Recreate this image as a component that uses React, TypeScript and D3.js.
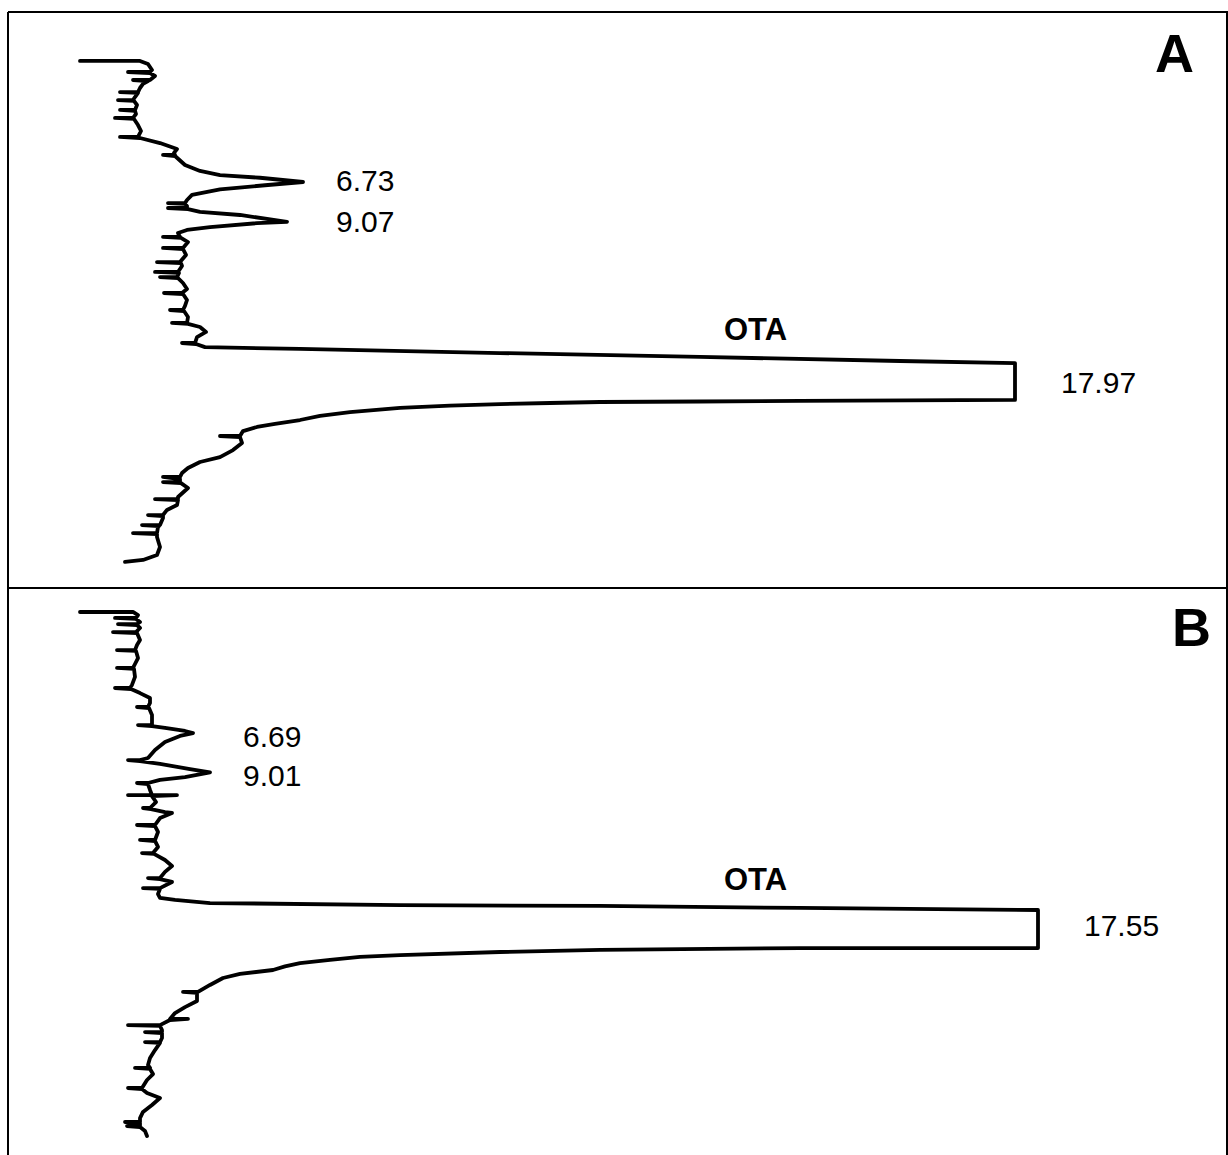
import React from "react";
import * as d3 from "d3";

// [retention time (min), detector signal (relative units)]
type Pt = [number, number];

// Chromatogram, sample A
const traceA: Pt[] = [
  [-0.39, -2.0], [-0.39, 4.0], [-0.21, 4.8], [0.14, 5.2],
  [0.26, 5.0], [0.26, 2.8], [0.32, 5.0], [0.49, 5.5],
  [0.73, 5.0], [0.73, 3.3], [0.79, 4.8], [0.96, 4.3], [1.2, 4.0],
  [1.44, 3.8], [1.44, 2.0], [1.49, 3.8], [1.73, 3.5],
  [1.91, 3.3], [1.91, 1.8], [1.96, 3.4], [2.2, 3.7],
  [2.49, 3.5], [2.49, 2.0], [2.55, 3.5], [2.73, 3.6],
  [2.96, 3.3], [2.96, 1.5], [3.02, 3.4], [3.38, 3.8], [3.73, 4.1],
  [4.08, 3.8], [4.08, 2.0], [4.14, 4.0], [4.44, 6.0], [4.79, 7.7],
  [5.02, 7.4], [5.14, 7.5], [5.14, 6.3], [5.2, 7.5], [5.73, 8.5],
  [6.08, 10.0], [6.32, 12.0], [6.48, 16.0], [6.73, 20.3],
  [6.92, 16.5], [7.16, 12.0], [7.49, 9.2], [7.79, 8.7],
  [7.97, 8.5], [7.97, 6.8], [8.02, 8.5], [8.14, 8.7],
  [8.26, 8.7], [8.26, 6.8], [8.32, 8.8], [8.49, 10.0], [8.67, 14.0],
  [9.07, 18.7], [9.15, 15.7], [9.38, 11.0], [9.55, 8.7], [9.73, 7.8],
  [9.96, 8.0], [9.96, 6.3], [10.02, 8.1], [10.26, 8.8],
  [10.61, 8.3], [10.61, 6.3], [10.67, 8.3], [11.02, 8.6],
  [11.44, 8.0], [11.44, 5.7], [11.5, 8.1], [11.67, 8.2],
  [12.02, 7.8], [12.02, 5.5], [12.08, 7.9],
  [12.32, 7.7], [12.32, 6.0], [12.38, 7.8], [12.67, 8.3], [13.02, 8.7],
  [13.26, 8.2], [13.26, 6.4], [13.32, 8.3], [13.67, 8.7], [14.02, 8.5],
  [14.26, 8.3], [14.26, 7.0], [14.32, 8.4], [14.67, 8.8],
  [15.02, 8.7], [15.02, 7.2], [15.08, 8.8], [15.26, 10.0], [15.55, 10.6],
  [15.85, 9.7], [16.2, 9.5], [16.2, 8.2], [16.26, 9.6], [16.44, 10.5],
  [16.55, 20.0], [16.79, 40.0], [17.02, 60.0], [17.26, 80.0], [17.38, 91.5],
  [19.55, 91.5], [19.61, 70.0], [19.64, 60.0], [19.67, 50.0], [19.73, 45.0],
  [19.79, 40.0], [19.88, 35.0], [20.02, 30.0], [20.26, 25.0], [20.49, 22.0],
  [20.73, 20.0], [20.96, 17.5], [21.14, 15.7], [21.38, 14.3],
  [21.67, 14.0], [21.67, 12.0], [21.73, 14.0], [22.08, 14.2],
  [22.5, 13.3], [22.91, 12.0], [23.2, 10.0], [23.55, 8.8], [23.85, 8.2],
  [24.08, 8.0], [24.08, 6.3], [24.2, 8.0],
  [24.38, 8.0], [24.38, 6.3], [24.44, 8.1], [24.73, 8.8],
  [25.26, 7.8], [25.38, 7.8], [25.38, 5.5], [25.44, 7.8], [25.73, 7.7],
  [26.02, 6.7], [26.32, 6.3], [26.32, 4.8], [26.38, 6.3], [26.49, 6.3],
  [26.91, 6.0], [26.91, 4.2], [26.97, 5.9], [27.02, 5.8],
  [27.38, 5.7], [27.38, 3.3], [27.44, 5.7], [27.61, 5.7],
  [28.2, 6.0], [28.67, 5.7], [28.96, 4.3], [29.08, 2.5],
];

// Chromatogram, sample B
const traceB: Pt[] = [
  [-0.43, -2.0], [-0.43, 3.3], [-0.25, 3.8],
  [-0.08, 3.6], [-0.08, 1.5], [-0.02, 3.6], [0.16, 4.0],
  [0.28, 3.7], [0.28, 1.8], [0.34, 3.7], [0.51, 4.0],
  [0.75, 3.6], [0.75, 1.3], [0.81, 3.7], [1.22, 4.0], [1.51, 3.7],
  [1.81, 3.5], [1.81, 1.7], [1.86, 3.6], [2.28, 3.8], [2.63, 3.5],
  [2.86, 3.3], [2.86, 1.7], [2.92, 3.4], [3.39, 3.5], [3.86, 3.2],
  [4.04, 3.0], [4.04, 1.5], [4.1, 3.1], [4.34, 4.0], [4.63, 5.0], [4.92, 5.0],
  [5.16, 4.8], [5.16, 3.7], [5.22, 4.9], [5.63, 5.2], [6.16, 5.2],
  [6.22, 5.2], [6.22, 3.8], [6.28, 5.2], [6.39, 6.5], [6.57, 8.5],
  [6.69, 9.3], [6.86, 8.0], [7.22, 6.5], [7.69, 5.5], [8.16, 4.8],
  [8.28, 4.0], [8.28, 2.8], [8.34, 4.0], [8.51, 6.0], [8.81, 9.0],
  [9.01, 11.0], [9.28, 8.5], [9.45, 6.0],
  [9.63, 4.8], [9.63, 3.7], [9.69, 4.8], [10.04, 5.0],
  [10.34, 5.2], [10.34, 2.8], [10.34, 7.7], [10.4, 5.2], [10.75, 5.6],
  [11.1, 5.0], [11.1, 4.3], [11.16, 5.1], [11.34, 6.5], [11.39, 7.2], [11.69, 6.0],
  [12.1, 5.5], [12.1, 3.7], [12.16, 5.5], [12.51, 5.8],
  [12.98, 5.5], [12.98, 4.0], [13.04, 5.5], [13.39, 5.8],
  [13.75, 5.3], [13.75, 4.2], [13.8, 5.4], [14.16, 6.5], [14.51, 7.2], [14.86, 6.5],
  [15.22, 6.0], [15.22, 4.8], [15.28, 6.0], [15.45, 7.2],
  [15.81, 6.0], [15.81, 4.3], [15.86, 6.0], [16.16, 5.8], [16.39, 6.0],
  [16.51, 7.5], [16.69, 11.0], [16.81, 30.0], [16.86, 50.0], [16.98, 70.0], [17.1, 93.8],
  [19.34, 93.8], [19.34, 70.0], [19.45, 50.0], [19.57, 40.0], [19.75, 30.0],
  [19.86, 26.0], [20.04, 23.0], [20.22, 20.0], [20.42, 18.5], [20.63, 17.3],
  [20.86, 14.0], [21.1, 12.3], [21.51, 11.0],
  [21.92, 9.8], [21.92, 8.3], [21.98, 9.7], [22.45, 9.7], [22.81, 8.5], [23.16, 7.5],
  [23.51, 7.0], [23.51, 8.8], [23.57, 7.0],
  [23.87, 6.0], [23.87, 2.8], [23.92, 6.0], [24.16, 6.2],
  [24.28, 6.2], [24.28, 4.5], [24.34, 6.2], [24.63, 6.2],
  [24.87, 6.0], [24.87, 4.5], [24.92, 6.0], [25.34, 5.5], [25.81, 5.0], [26.22, 4.8],
  [26.39, 5.0], [26.39, 3.5], [26.45, 5.0], [26.75, 5.3], [27.1, 4.7],
  [27.57, 4.2], [27.57, 2.8], [27.63, 4.2], [27.86, 4.7], [28.16, 6.0],
  [28.57, 5.2], [28.98, 4.3], [29.34, 4.0],
  [29.57, 4.0], [29.57, 2.5], [29.63, 4.0],
  [29.81, 4.0], [29.81, 2.7], [29.87, 4.0], [30.1, 4.5], [30.39, 4.7],
];

// Labelled retention times (min)
const peakTimesA = [6.73, 9.07];
const peakTimesB = [6.69, 9.01];
const otaTimeA = 17.97;
const otaTimeB = 17.55;
const analyteName = "OTA";
const panelNames = ["A", "B"];

const W = 1228;
const H = 1155;
const FONT = "'Liberation Sans', Arial, Helvetica, sans-serif";

type Panel = {
  name: string;
  trace: Pt[];
  peaks: number[];
  ota: number;
  t0: number; // pixel row of t = 0
  letterX: number;
  letterY: number;
  peakLabelX: number;
  peakDy: number[];
  otaDy: number;
  otaLabelY: number;
};

const PX_PER_MIN = 17;

const panels: Panel[] = [
  {
    name: panelNames[0], trace: traceA, peaks: peakTimesA, ota: otaTimeA,
    t0: 67.6, letterX: 1155, letterY: 72,
    peakLabelX: 336, peakDy: [9, 10], otaDy: 20, otaLabelY: 340,
  },
  {
    name: panelNames[1], trace: traceB, peaks: peakTimesB, ota: otaTimeB,
    t0: 619.3, letterX: 1172, letterY: 646,
    peakLabelX: 243, peakDy: [14, 14], otaDy: 18, otaLabelY: 890,
  },
];

const x = d3.scaleLinear().domain([0, 100]).range([100, 1100]);

function PanelView({ p }: { p: Panel }) {
  const y = d3.scaleLinear().domain([0, 30]).range([p.t0, p.t0 + 30 * PX_PER_MIN]);
  const line = d3.line<Pt>().x((d) => x(d[1])).y((d) => y(d[0]));
  const sat = d3.max(p.trace, (d) => d[1]) as number;
  return (
    <g>
      <path d={line(p.trace) || ""} fill="none" stroke="#000" strokeWidth={3.8}
        strokeLinejoin="round" strokeLinecap="round" />
      {p.peaks.map((t, i) => (
        <text key={t} x={p.peakLabelX} y={y(t) + p.peakDy[i]} fontSize={30}
          fontFamily={FONT} fill="#000">{t.toFixed(2)}</text>
      ))}
      <text x={724} y={p.otaLabelY} fontSize={31} fontWeight="bold" fontFamily={FONT}
        fill="#000">{analyteName}</text>
      <text x={x(sat) + 46} y={y(p.ota) + p.otaDy} fontSize={30} fontFamily={FONT}
        fill="#000">{p.ota.toFixed(2)}</text>
      <text x={p.letterX} y={p.letterY} fontSize={54} fontWeight="bold" fontFamily={FONT}
        fill="#000">{p.name}</text>
    </g>
  );
}

export default function App() {
  return (
    <div style={{ position: "absolute", left: 0, top: 0, width: W, height: H, background: "#fff" }}>
      <svg width={W} height={H} viewBox={`0 0 ${W} ${H}`} style={{ display: "block" }}>
        <rect x={0} y={0} width={W} height={H} fill="#fff" />
        {/* frame and divider */}
        <line x1={8} y1={12} x2={W} y2={12} stroke="#000" strokeWidth={2} />
        <line x1={8} y1={588} x2={W} y2={588} stroke="#000" strokeWidth={2} />
        <line x1={8} y1={12} x2={8} y2={H} stroke="#000" strokeWidth={2} />
        <line x1={1227} y1={12} x2={1227} y2={H} stroke="#000" strokeWidth={2} />
        {panels.map((p) => (
          <PanelView key={p.name} p={p} />
        ))}
      </svg>
    </div>
  );
}
